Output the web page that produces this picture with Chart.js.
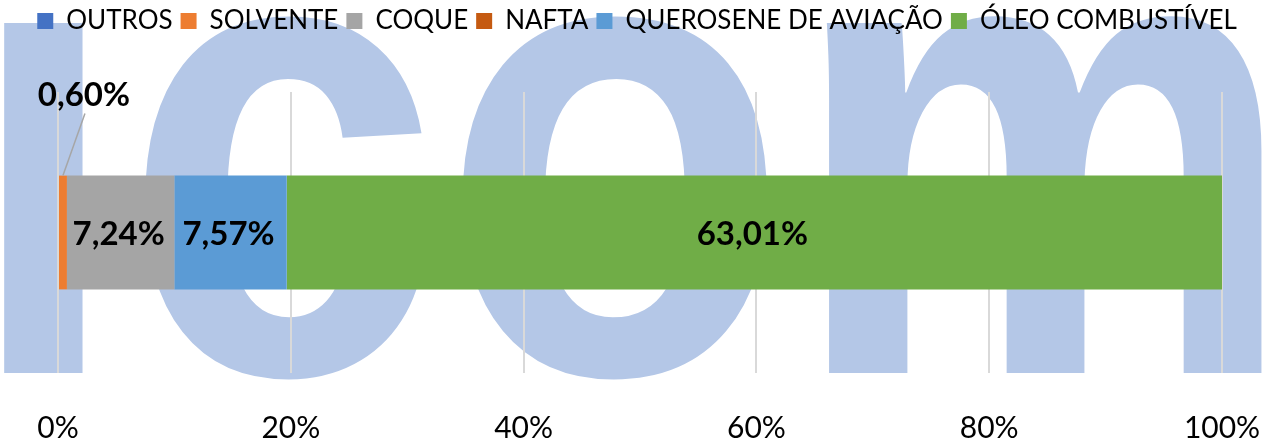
<!DOCTYPE html>
<html lang="pt">
<head>
  <meta charset="UTF-8">
  <title>Derivados</title>
  <style>
    body {
      margin: 0;
      padding: 0;
      background: #ffffff;
      overflow: hidden;
    }
    .chart-box {
      width: 1274px;
      height: 448px;
      position: relative;
    }
  </style>
</head>
<body>
  <div class="chart-box">
    <canvas id="chart"></canvas>
  </div>

  <script src="https://cdn.jsdelivr.net/npm/chart.js"></script>
  <script>
    // data
    const categories = [''];
    const seriesNames = ['OUTROS', 'SOLVENTE', 'COQUE', 'NAFTA', 'QUEROSENE DE AVIAÇÃO', 'ÓLEO COMBUSTÍVEL'];
    const seriesValues = [0, 0.60, 7.24, 0, 7.57, 63.01];
    const tickLabels = ['0%', '20%', '40%', '60%', '80%', '100%'];

    const seriesColors = ['#4472c4', '#ed7d31', '#a5a5a5', '#c55a11', '#5b9bd5', '#70ad47'];
    const total = seriesValues.reduce((a, b) => a + b, 0);
    const FONT = 'Lato';

    function fmt(v) {
      return v.toFixed(2).replace('.', ',') + '%';
    }

    // big light blue "icom" watermark behind everything
    const watermark = {
      id: 'watermark',
      beforeDraw(chart) {
        const ctx = chart.ctx;
        ctx.save();
        ctx.font = 'bold 500px "Liberation Sans"';
        ctx.textAlign = 'left';
        ctx.textBaseline = 'alphabetic';
        const m = ctx.measureText('icom');
        const xh = ctx.measureText('x').actualBoundingBoxAscent;
        const w = m.actualBoundingBoxRight + m.actualBoundingBoxLeft;
        const sx = 1262 / w;
        const sy = 352 / xh;
        ctx.translate(m.actualBoundingBoxLeft * sx, 373);
        ctx.scale(sx, sy);
        ctx.fillStyle = '#b4c7e7';
        ctx.fillText('icom', 0, 0);
        ctx.restore();
      }
    };

    // value labels inside the segments, or above with a leader line if too narrow
    const valueLabels = {
      id: 'valueLabels',
      afterDatasetsDraw(chart) {
        const ctx = chart.ctx;
        ctx.save();
        ctx.font = 'bold 33px ' + FONT;
        ctx.fillStyle = '#000';
        ctx.textAlign = 'center';
        ctx.textBaseline = 'middle';
        chart.data.datasets.forEach((ds, i) => {
          const v = ds.data[0];
          if (!v) return;
          const el = chart.getDatasetMeta(i).data[0];
          const cx = (el.x + el.base) / 2;
          const txt = fmt(v);
          const tw = ctx.measureText(txt).width;
          if (tw < Math.abs(el.x - el.base)) {
            ctx.fillText(txt, cx - 2, el.y + 2);
          } else {
            const top = el.y - el.height / 2;
            ctx.strokeStyle = '#a6a6a6';
            ctx.lineWidth = 1.5;
            ctx.beginPath();
            ctx.moveTo(cx, top);
            ctx.lineTo(cx + 22, top - 62);
            ctx.stroke();
            ctx.fillText(txt, cx + 21, top - 80);
          }
        });
        ctx.restore();
      }
    };

    const datasets = seriesNames.map((name, i) => ({
      label: name,
      data: [seriesValues[i]],
      backgroundColor: seriesColors[i],
      borderWidth: 0,
      categoryPercentage: 1,
      barPercentage: 0.405
    }));

    const hidden = {
      grid: { display: false },
      border: { display: false },
      ticks: { display: false }
    };

    new Chart(document.getElementById('chart'), {
      type: 'bar',
      data: { labels: categories, datasets: datasets },
      plugins: [watermark, valueLabels],
      options: {
        indexAxis: 'y',
        responsive: true,
        maintainAspectRatio: false,
        animation: false,
        layout: { padding: 0 },
        plugins: {
          tooltip: { enabled: false },
          legend: {
            position: 'top',
            labels: {
              boxWidth: 16,
              boxHeight: 16,
              padding: 8,
              color: '#000',
              font: { family: FONT, size: 26 }
            }
          }
        },
        scales: {
          x: {
            stacked: true,
            min: 0,
            max: total,
            afterBuildTicks(scale) {
              scale.ticks = tickLabels.map((t, i) => ({ value: total * i / (tickLabels.length - 1) }));
            },
            afterFit(scale) { scale.height = 75; },
            grid: {
              color: '#d9d9d9',
              lineWidth: 2,
              drawTicks: true,
              tickLength: 35,
              tickColor: 'rgba(0,0,0,0)'
            },
            border: { display: false },
            ticks: {
              padding: 2,
              color: '#000',
              font: { family: FONT, size: 30 },
              maxRotation: 0,
              callback: (v, i) => tickLabels[i]
            }
          },
          xt: Object.assign({ axis: 'x', position: 'top', afterFit(scale) { scale.height = 48; } }, hidden),
          y: Object.assign({ stacked: true, afterFit(scale) { scale.width = 58; } }, hidden),
          yr: Object.assign({ axis: 'y', position: 'right', afterFit(scale) { scale.width = 52; } }, hidden)
        }
      }
    });
  </script>
</body>
</html>
